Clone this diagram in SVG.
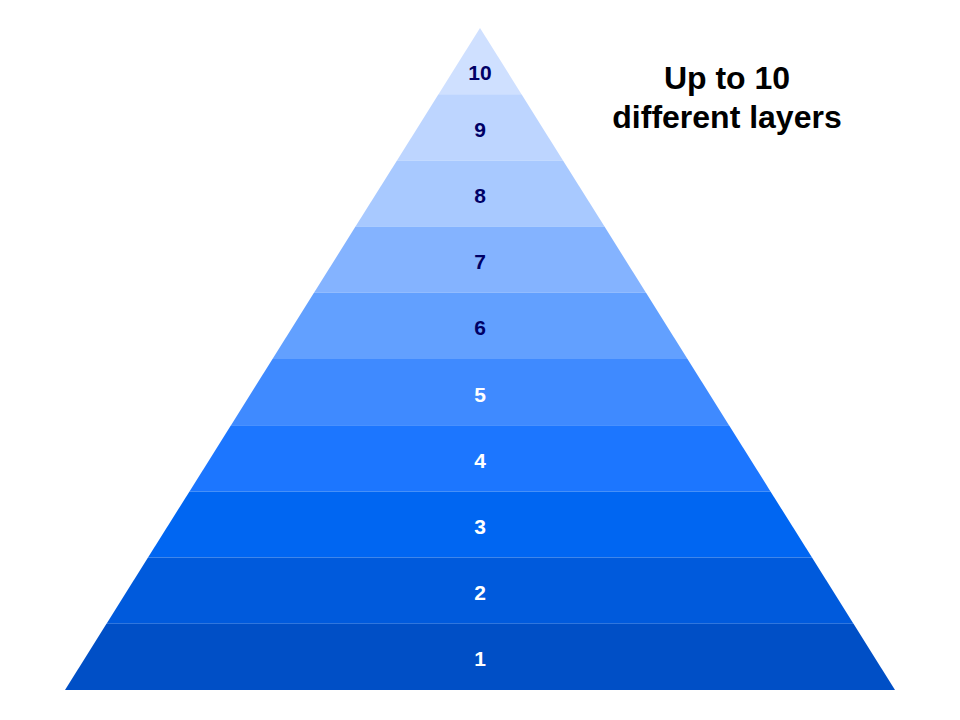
<svg xmlns="http://www.w3.org/2000/svg" width="960" height="720" viewBox="0 0 960 720">
<style>
.lbl{font-family:"Liberation Sans",Arial,sans-serif;font-weight:bold;font-size:21px;text-anchor:middle}
.dk{fill:#000066}
.lt{fill:#ffffff}
.title{font-family:"Liberation Sans",Arial,sans-serif;font-weight:bold;font-size:32px;text-anchor:middle;fill:#000000}
</style>
<rect width="960" height="720" fill="#ffffff"/>
<g id="layer10"><polygon points="480,28 521.5,94.2 438.5,94.2" fill="#CFE0FF"/><text class="lbl dk" x="480" y="80">10</text></g>
<g id="layer9"><polygon points="438.5,94.2 521.5,94.2 563,160.4 397,160.4" fill="#BDD5FF"/><text class="lbl dk" x="480" y="137">9</text></g>
<g id="layer8"><polygon points="397,160.4 563,160.4 604.5,226.6 355.5,226.6" fill="#A8C9FF"/><text class="lbl dk" x="480" y="203">8</text></g>
<g id="layer7"><polygon points="355.5,226.6 604.5,226.6 646,292.8 314,292.8" fill="#84B3FF"/><text class="lbl dk" x="480" y="269">7</text></g>
<g id="layer6"><polygon points="314,292.8 646,292.8 687.5,359 272.5,359" fill="#62A0FF"/><text class="lbl dk" x="480" y="335">6</text></g>
<g id="layer5"><polygon points="272.5,359 687.5,359 729,425.2 231,425.2" fill="#3F8AFF"/><text class="lbl lt" x="480" y="402">5</text></g>
<g id="layer4"><polygon points="231,425.2 729,425.2 770.5,491.4 189.5,491.4" fill="#1C76FF"/><text class="lbl lt" x="480" y="468">4</text></g>
<g id="layer3"><polygon points="189.5,491.4 770.5,491.4 812,557.6 148,557.6" fill="#0066F2"/><text class="lbl lt" x="480" y="534">3</text></g>
<g id="layer2"><polygon points="148,557.6 812,557.6 853.5,623.8 106.5,623.8" fill="#005ADC"/><text class="lbl lt" x="480" y="600">2</text></g>
<g id="layer1"><polygon points="106.5,623.8 853.5,623.8 895,690 65,690" fill="#004FC6"/><text class="lbl lt" x="480" y="666">1</text></g>
<g id="title"><text class="title" x="727" y="89">Up to 10</text><text class="title" x="727" y="128">different layers</text></g>
</svg>
